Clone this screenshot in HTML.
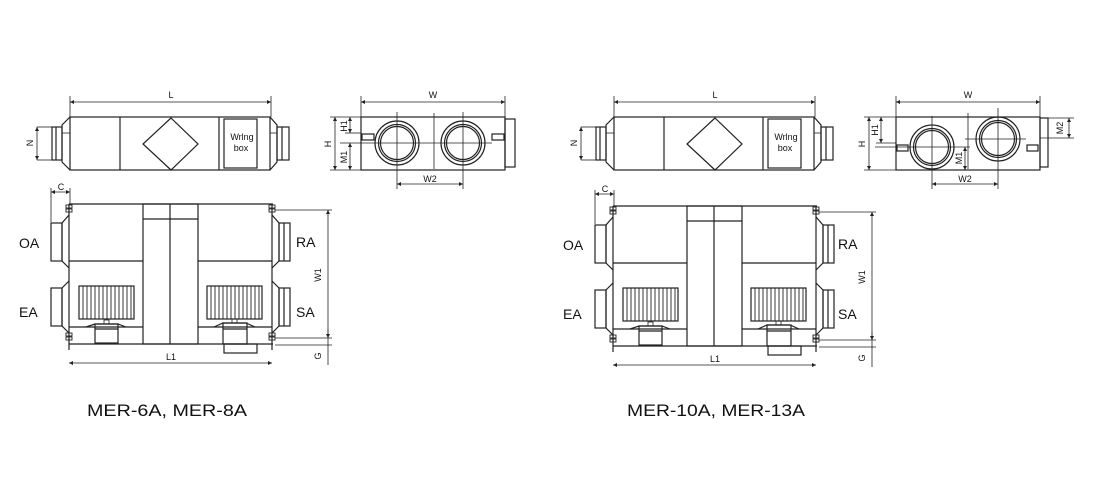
<!DOCTYPE html>
<html><head><meta charset="utf-8"><style>
html,body{margin:0;padding:0;background:#fff}
svg{display:block}
text{font-family:"Liberation Sans",Arial,sans-serif;fill:#111}
</style></head><body>
<svg width="1100" height="500" viewBox="0 0 1100 500" xmlns="http://www.w3.org/2000/svg">
<defs>
<marker id="a" viewBox="0 0 6 6" refX="6" refY="3" markerWidth="5" markerHeight="5" orient="auto-start-reverse"><path d="M0,0L6,3L0,6z" fill="#222"/></marker>
<g id="top" fill="none" stroke="#222" stroke-width="1.2">
  <line x1="70" y1="102" x2="271" y2="102" marker-start="url(#a)" marker-end="url(#a)" stroke-width="0.8"/>
  <line x1="70" y1="96" x2="70" y2="117" stroke-width="0.8"/>
  <line x1="271" y1="96" x2="271" y2="117" stroke-width="0.8"/>
  <rect x="70" y="117" width="200" height="53"/>
  <line x1="120" y1="117" x2="120" y2="170"/>
  <line x1="219" y1="117" x2="219" y2="170"/>
  <polygon points="171,118 198,144 171,170 143,144"/>
  <rect x="224" y="119" width="33" height="49"/>
  <polyline points="70,117 62,125 62,162 70,170"/>
  <rect x="52" y="127" width="10" height="33"/>
  <line x1="56" y1="127" x2="56" y2="160"/>
  <line x1="37" y1="127" x2="52" y2="127" stroke-width="0.8"/>
  <line x1="37" y1="160" x2="52" y2="160" stroke-width="0.8"/>
  <line x1="37" y1="127" x2="37" y2="160" marker-start="url(#a)" marker-end="url(#a)" stroke-width="0.8"/>
  <line x1="62" y1="133" x2="70" y2="133" stroke-width="0.8"/>
  <polyline points="270,117 277,125 277,162 270,170"/>
  <rect x="277" y="127" width="12" height="33"/>
  <line x1="282" y1="127" x2="282" y2="160"/>
  <line x1="270" y1="133" x2="277" y2="133" stroke-width="0.8"/>
</g>
<g id="bot" fill="none" stroke="#222" stroke-width="1.2">
  <line x1="51" y1="192" x2="70" y2="192" marker-start="url(#a)" marker-end="url(#a)" stroke-width="0.8"/>
  <line x1="51" y1="188" x2="51" y2="222" stroke-width="0.8"/>
  <line x1="70" y1="188" x2="70" y2="204" stroke-width="0.8"/>
  <line x1="69" y1="204" x2="273" y2="204"/>
  <line x1="69" y1="344" x2="273" y2="344"/>
  <line x1="69" y1="204" x2="69" y2="350"/>
  <line x1="272" y1="204" x2="272" y2="350"/>
  <rect x="143" y="204" width="55" height="140"/>
  <line x1="170" y1="204" x2="170" y2="344"/>
  <line x1="143" y1="219" x2="198" y2="219"/>
  <line x1="69" y1="261" x2="143" y2="261"/>
  <line x1="198" y1="261" x2="272" y2="261"/>
  <line x1="69" y1="327" x2="143" y2="327"/>
  <line x1="198" y1="327" x2="272" y2="327"/>
  <!-- ducts left -->
  <polyline points="69,215 62,223 62,261 69,268"/>
  <rect x="51" y="223" width="11" height="38"/>
  <polyline points="69,281 62,288 62,326 69,333"/>
  <rect x="51" y="288" width="11" height="38"/>
  <!-- ducts right -->
  <polyline points="272,215 279,223 279,261 272,268"/>
  <rect x="279" y="223" width="11" height="38"/>
  <line x1="284" y1="223" x2="284" y2="261"/>
  <polyline points="272,281 279,288 279,326 272,333"/>
  <rect x="279" y="288" width="11" height="38"/>
  <line x1="284" y1="288" x2="284" y2="326"/>
  <!-- bolts -->
  <g stroke-width="0.9">
  <rect x="66" y="205" width="6" height="3"/><rect x="66" y="209" width="6" height="3"/>
  <rect x="66" y="333" width="6" height="3"/><rect x="66" y="337" width="6" height="3"/>
  <rect x="269" y="205" width="6" height="3"/><rect x="269" y="209" width="6" height="3"/>
  <rect x="269" y="333" width="6" height="3"/><rect x="269" y="337" width="6" height="3"/>
  </g>
  <!-- fans -->
  <rect x="79" y="286" width="55" height="33"/>
  <path d="M83,286V319M87,286V319M91,286V319M95,286V319M99,286V319M103,286V319M107,286V319M111,286V319M115,286V319M119,286V319M123,286V319M127,286V319M131,286V319" stroke-width="0.9"/>
  <rect x="207" y="286" width="55" height="33"/>
  <path d="M211,286V319M215,286V319M219,286V319M223,286V319M227,286V319M231,286V319M235,286V319M239,286V319M243,286V319M247,286V319M251,286V319M255,286V319M259,286V319" stroke-width="0.9"/>
  <!-- motors -->
  <polyline points="86,327 95,324 118,324 126,327"/>
  <rect x="95" y="324" width="23" height="19"/>
  <line x1="95" y1="329" x2="118" y2="329"/>
  <rect x="104" y="320" width="5" height="4" stroke-width="0.8"/>
  <polyline points="214,327 223,323 246,323 255,327"/>
  <rect x="223" y="323" width="24" height="21"/>
  <line x1="223" y1="329" x2="247" y2="329"/>
  <rect x="232" y="319" width="5" height="4" stroke-width="0.8"/>
  <rect x="224" y="344" width="33" height="9"/>
  <!-- L1 -->
  <line x1="69" y1="363" x2="272" y2="363" marker-start="url(#a)" marker-end="url(#a)" stroke-width="0.8"/>
  <!-- W1/G -->
  <line x1="275" y1="210" x2="332" y2="210" stroke-width="0.8"/>
  <line x1="275" y1="338" x2="332" y2="338" stroke-width="0.8"/>
  <line x1="275" y1="345" x2="332" y2="345" stroke-width="0.8"/>
  <line x1="328" y1="210" x2="328" y2="338" marker-start="url(#a)" marker-end="url(#a)" stroke-width="0.8"/>
  <line x1="328" y1="330" x2="328" y2="365" stroke-width="0.8"/>
</g>
</defs>

<use href="#top"/>
<use href="#bot"/>
<use href="#top" transform="translate(544,0)"/>
<use href="#bot" transform="translate(544,2)"/>

<g font-size="9">
<text x="171" y="98" text-anchor="middle">L</text>
<text x="715" y="98" text-anchor="middle">L</text>
<text x="242" y="140" text-anchor="middle">Wrlng</text>
<text x="241" y="151" text-anchor="middle">box</text>
<text x="786" y="140" text-anchor="middle">Wrlng</text>
<text x="785" y="151" text-anchor="middle">box</text>
<text transform="translate(33,143) rotate(-90)" text-anchor="middle">N</text>
<text transform="translate(577,143) rotate(-90)" text-anchor="middle">N</text>
<text x="61" y="190" text-anchor="middle">C</text>
<text x="605" y="192" text-anchor="middle">C</text>
<text x="171" y="360" text-anchor="middle">L1</text>
<text x="715" y="362" text-anchor="middle">L1</text>
<text transform="translate(321,275) rotate(-90)" text-anchor="middle">W1</text>
<text transform="translate(865,277) rotate(-90)" text-anchor="middle">W1</text>
<text transform="translate(321,356) rotate(-90)" text-anchor="middle">G</text>
<text transform="translate(865,358) rotate(-90)" text-anchor="middle">G</text>
</g>
<g font-size="14">
<text x="19" y="248">OA</text><text x="19" y="317">EA</text>
<text x="296" y="247">RA</text><text x="296" y="317">SA</text>
<text x="563" y="250">OA</text><text x="563" y="319">EA</text>
<text x="838" y="249">RA</text><text x="838" y="319">SA</text>
</g>
<g font-size="17">
<text x="87" y="416" textLength="160" lengthAdjust="spacingAndGlyphs">MER-6A, MER-8A</text>
<text x="627" y="416" textLength="178" lengthAdjust="spacingAndGlyphs">MER-10A, MER-13A</text>
</g>

<!-- side view left -->
<g fill="none" stroke="#222" stroke-width="1.2">
  <line x1="361" y1="102" x2="505" y2="102" marker-start="url(#a)" marker-end="url(#a)" stroke-width="0.8"/>
  <line x1="361" y1="96" x2="361" y2="117" stroke-width="0.8"/>
  <line x1="505" y1="96" x2="505" y2="117" stroke-width="0.8"/>
  <rect x="361" y="117" width="144" height="53"/>
  <rect x="505" y="119" width="10" height="48"/>
  <circle cx="397" cy="143" r="22"/><circle cx="397" cy="143" r="18.5"/><circle cx="397" cy="143" r="16.5"/>
  <circle cx="463" cy="143" r="22"/><circle cx="463" cy="143" r="18.5"/><circle cx="463" cy="143" r="16.5"/>
  <g stroke-width="0.8">
  <line x1="397" y1="112" x2="397" y2="189"/><line x1="463" y1="112" x2="463" y2="189"/>
  <line x1="340" y1="143" x2="492" y2="143"/>
  <line x1="434" y1="113" x2="434" y2="169"/>
  <line x1="330" y1="117" x2="361" y2="117"/><line x1="330" y1="170" x2="361" y2="170"/>
  <line x1="335" y1="117" x2="335" y2="170" marker-start="url(#a)" marker-end="url(#a)"/>
  <line x1="350" y1="117" x2="350" y2="133" marker-start="url(#a)" marker-end="url(#a)"/>
  <line x1="345" y1="133" x2="361" y2="133"/>
  <line x1="350" y1="143" x2="350" y2="170" marker-start="url(#a)" marker-end="url(#a)"/>
  <line x1="397" y1="184" x2="463" y2="184" marker-start="url(#a)" marker-end="url(#a)"/>
  </g>
  <rect x="362" y="134" width="12" height="6"/>
  <rect x="492" y="134" width="12" height="6"/>
</g>
<g font-size="9">
<text x="433" y="98" text-anchor="middle">W</text>
<text x="430" y="182" text-anchor="middle">W2</text>
<text transform="translate(331,144) rotate(-90)" text-anchor="middle">H</text>
<text transform="translate(347,126) rotate(-90)" text-anchor="middle">H1</text>
<text transform="translate(347,157) rotate(-90)" text-anchor="middle">M1</text>
</g>

<!-- side view right -->
<g fill="none" stroke="#222" stroke-width="1.2">
  <line x1="896" y1="102" x2="1040" y2="102" marker-start="url(#a)" marker-end="url(#a)" stroke-width="0.8"/>
  <line x1="896" y1="96" x2="896" y2="117" stroke-width="0.8"/>
  <line x1="1040" y1="96" x2="1040" y2="117" stroke-width="0.8"/>
  <rect x="896" y="117" width="144" height="53"/>
  <rect x="1040" y="118" width="8" height="49"/>
  <circle cx="932" cy="147" r="22"/><circle cx="932" cy="147" r="18.5"/><circle cx="932" cy="147" r="16.5"/>
  <circle cx="998" cy="139" r="22"/><circle cx="998" cy="139" r="18.5"/><circle cx="998" cy="139" r="16.5"/>
  <g stroke-width="0.8">
  <line x1="932" y1="116" x2="932" y2="189"/><line x1="998" y1="108" x2="998" y2="189"/>
  <line x1="875" y1="147" x2="970" y2="147"/>
  <line x1="965" y1="139" x2="1026" y2="139"/>
  <line x1="968" y1="113" x2="968" y2="169"/>
  <line x1="864" y1="117" x2="896" y2="117"/><line x1="864" y1="170" x2="896" y2="170"/>
  <line x1="869" y1="117" x2="869" y2="170" marker-start="url(#a)" marker-end="url(#a)"/>
  <line x1="881" y1="117" x2="881" y2="143" marker-start="url(#a)" marker-end="url(#a)"/>
  <line x1="876" y1="143" x2="896" y2="143"/>
  <line x1="965" y1="147" x2="965" y2="170" marker-start="url(#a)" marker-end="url(#a)"/>
  <line x1="1048" y1="118" x2="1074" y2="118"/><line x1="1040" y1="138" x2="1074" y2="138"/>
  <line x1="1069" y1="118" x2="1069" y2="138" marker-start="url(#a)" marker-end="url(#a)"/>
  <line x1="932" y1="184" x2="998" y2="184" marker-start="url(#a)" marker-end="url(#a)"/>
  </g>
  <rect x="897" y="145" width="11" height="6"/>
  <rect x="1027" y="145" width="11" height="6"/>
</g>
<g font-size="9">
<text x="968" y="98" text-anchor="middle">W</text>
<text x="965" y="182" text-anchor="middle">W2</text>
<text transform="translate(865,144) rotate(-90)" text-anchor="middle">H</text>
<text transform="translate(878,130) rotate(-90)" text-anchor="middle">H1</text>
<text transform="translate(962,158) rotate(-90)" text-anchor="middle">M1</text>
<text transform="translate(1063,128) rotate(-90)" text-anchor="middle">M2</text>
</g>
</svg>
</body></html>
